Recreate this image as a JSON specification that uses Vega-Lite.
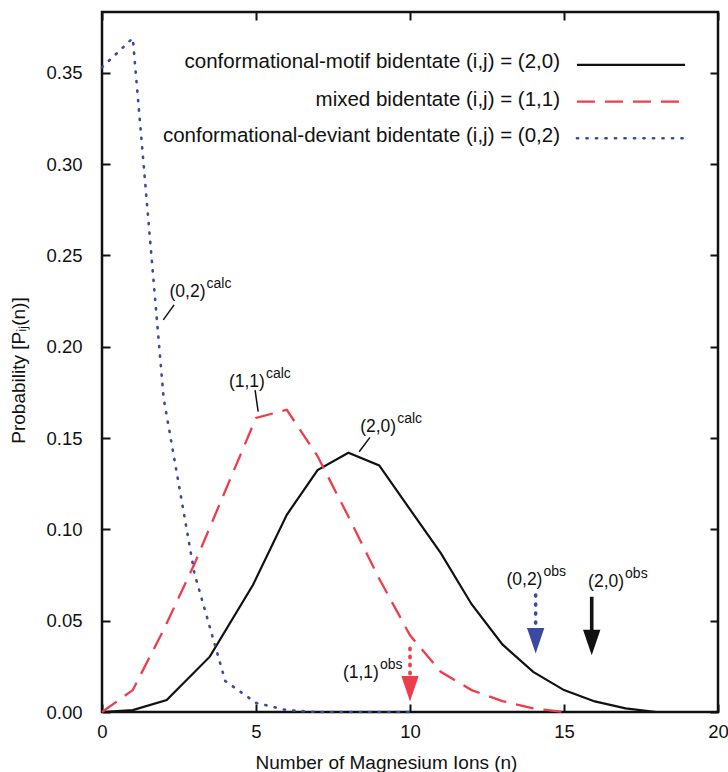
{
  "$schema": "https://vega.github.io/schema/vega-lite/v6.json",
  "width": 616,
  "height": 700,
  "autosize": {"type": "none"},
  "padding": {"left": 102, "top": 12, "right": 10, "bottom": 60},
  "background": "white",
  "config": {
    "font": "Liberation Sans",
    "view": {"stroke": "#111111", "strokeWidth": 2.5},
    "axis": {
      "domain": false, "grid": false, "tickColor": "#111111", "tickWidth": 2, "tickSize": -8,
      "labelFont": "Liberation Sans", "labelFontSize": 18.5, "labelColor": "#111111", "labelFlush": false, "labelOverlap": false,
      "titleFont": "Liberation Sans", "titleFontSize": 19, "titleFontWeight": "normal", "titleColor": "#111111"
    }
  },
  "datasets": {
    "curves": [
      {"s": "a", "n": 0, "p": 0}, {"s": "a", "n": 1, "p": 0.001}, {"s": "a", "n": 2.1, "p": 0.0066}, {"s": "a", "n": 3.5, "p": 0.0303},
      {"s": "a", "n": 4.9, "p": 0.0695}, {"s": "a", "n": 6, "p": 0.108}, {"s": "a", "n": 7, "p": 0.1325}, {"s": "a", "n": 8, "p": 0.142},
      {"s": "a", "n": 9, "p": 0.135}, {"s": "a", "n": 10, "p": 0.111}, {"s": "a", "n": 11, "p": 0.087}, {"s": "a", "n": 12, "p": 0.059},
      {"s": "a", "n": 13, "p": 0.037}, {"s": "a", "n": 14, "p": 0.022}, {"s": "a", "n": 15, "p": 0.012}, {"s": "a", "n": 16, "p": 0.0058},
      {"s": "a", "n": 17, "p": 0.002}, {"s": "a", "n": 18, "p": 0},
      {"s": "b", "n": 0, "p": 0}, {"s": "b", "n": 1, "p": 0.012}, {"s": "b", "n": 2, "p": 0.045}, {"s": "b", "n": 3, "p": 0.081},
      {"s": "b", "n": 4, "p": 0.121}, {"s": "b", "n": 5, "p": 0.161}, {"s": "b", "n": 6, "p": 0.1655}, {"s": "b", "n": 7, "p": 0.14},
      {"s": "b", "n": 8, "p": 0.107}, {"s": "b", "n": 9, "p": 0.073}, {"s": "b", "n": 10, "p": 0.042}, {"s": "b", "n": 11, "p": 0.022},
      {"s": "b", "n": 12, "p": 0.012}, {"s": "b", "n": 13, "p": 0.006}, {"s": "b", "n": 14, "p": 0.002}, {"s": "b", "n": 15, "p": 0},
      {"s": "c", "n": 0, "p": 0.353}, {"s": "c", "n": 1, "p": 0.369}, {"s": "c", "n": 2, "p": 0.172}, {"s": "c", "n": 3, "p": 0.076},
      {"s": "c", "n": 4, "p": 0.017}, {"s": "c", "n": 5, "p": 0.005}, {"s": "c", "n": 6, "p": 0.001}, {"s": "c", "n": 7, "p": 0},
      {"s": "c", "n": 8, "p": 0}, {"s": "c", "n": 9, "p": 0}, {"s": "c", "n": 10, "p": 0}
    ],
    "arrows": [
      {"k": "b", "n": 10.0, "t": 0.0349, "b": 0.0205, "h": 0.0127},
      {"k": "c", "n": 14.08, "t": 0.064, "b": 0.046, "h": 0.039},
      {"k": "a", "n": 15.9, "t": 0.0631, "b": 0.042, "h": 0.038}
    ],
    "labels": [
      {"lab": "(0,2)", "sup": "calc", "n": 3.36, "p": 0.227},
      {"lab": "(1,1)", "sup": "calc", "n": 5.29, "p": 0.178},
      {"lab": "(2,0)", "sup": "calc", "n": 9.55, "p": 0.1535},
      {"lab": "(0,2)", "sup": "obs", "n": 14.3, "p": 0.0694},
      {"lab": "(2,0)", "sup": "obs", "n": 16.95, "p": 0.0687},
      {"lab": "(1,1)", "sup": "obs", "n": 8.99, "p": 0.0185}
    ],
    "leaders": [
      {"n1": 1.99, "p1": 0.2147, "n2": 2.34, "p2": 0.2229},
      {"n1": 4.97, "p1": 0.1763, "n2": 5.07, "p2": 0.1645},
      {"n1": 8.70, "p1": 0.1504, "n2": 8.35, "p2": 0.1425}
    ],
    "legend": [
      {"s": "a", "t": "conformational-motif bidentate (i,j) = (2,0)", "xt": 14.87, "yt": 0.3561, "x1": 15.42, "x2": 18.93, "yl": 0.3543},
      {"s": "b", "t": "mixed bidentate (i,j) = (1,1)", "xt": 14.87, "yt": 0.3352, "x1": 15.42, "x2": 18.93, "yl": 0.3342},
      {"s": "c", "t": "conformational-deviant bidentate (i,j) = (0,2)", "xt": 14.87, "yt": 0.3154, "x1": 15.42, "x2": 18.93, "yl": 0.3142}
    ]
  },
  "resolve": {"axis": {"x": "independent", "y": "independent"}},
  "layer": [
    {
      "data": {"name": "curves"},
      "transform": [{"filter": "datum.s === 'a'"}],
      "mark": {"type": "line", "color": "#111111", "strokeWidth": 2.2},
      "encoding": {
        "x": {"field": "n", "type": "quantitative", "scale": {"domain": [0, 20], "nice": false},
              "axis": {"orient": "bottom", "values": [0, 5, 10, 15, 20], "labelPadding": 18, "title": "Number of Magnesium Ions (n)",
                       "titleX": 284, "titleY": 50, "titleAlign": "center", "titleBaseline": "middle"}},
        "y": {"field": "p", "type": "quantitative", "scale": {"domain": [0, 0.3833], "nice": false},
              "axis": {"orient": "left", "values": [0, 0.05, 0.1, 0.15, 0.2, 0.25, 0.3, 0.35], "format": ".2f", "labelPadding": 28,
                       "title": "Probability [Pᵢⱼ(n)]", "titleX": -84, "titleY": 358, "titleAngle": 270, "titleAlign": "center", "titleBaseline": "middle"}}
      }
    },
    {
      "data": {"name": "curves"},
      "transform": [{"filter": "datum.s === 'b'"}],
      "mark": {"type": "line", "color": "#ee3d4a", "strokeWidth": 2.3, "strokeDash": [18, 10]},
      "encoding": {
        "x": {"field": "n", "type": "quantitative", "scale": {"domain": [0, 20], "nice": false},
              "axis": {"orient": "top", "values": [0, 5, 10, 15, 20], "labels": false, "title": null}},
        "y": {"field": "p", "type": "quantitative", "scale": {"domain": [0, 0.3833], "nice": false},
              "axis": {"orient": "right", "values": [0, 0.05, 0.1, 0.15, 0.2, 0.25, 0.3, 0.35], "labels": false, "title": null}}
      }
    },
    {
      "data": {"name": "curves"},
      "transform": [{"filter": "datum.s === 'c'"}],
      "mark": {"type": "line", "color": "#3b4aa0", "strokeWidth": 2.6, "strokeDash": [1.2, 8.3], "strokeCap": "round"},
      "encoding": {
        "x": {"field": "n", "type": "quantitative", "scale": {"domain": [0, 20], "nice": false}, "axis": null},
        "y": {"field": "p", "type": "quantitative", "scale": {"domain": [0, 0.3833], "nice": false}, "axis": null}
      }
    },
    {
      "data": {"name": "arrows"},
      "transform": [{"filter": "datum.k === 'a'"}],
      "mark": {"type": "rule", "color": "#111111", "strokeWidth": 3.6},
      "encoding": {
        "x": {"field": "n", "type": "quantitative", "scale": {"domain": [0, 20], "nice": false}, "axis": null},
        "y": {"field": "t", "type": "quantitative", "scale": {"domain": [0, 0.3833], "nice": false}, "axis": null},
        "y2": {"field": "b"}
      }
    },
    {
      "data": {"name": "arrows"},
      "transform": [{"filter": "datum.k === 'b'"}],
      "mark": {"type": "rule", "color": "#ee3d4a", "strokeWidth": 3.6, "strokeDash": [1.5, 6.5], "strokeCap": "round"},
      "encoding": {
        "x": {"field": "n", "type": "quantitative", "scale": {"domain": [0, 20], "nice": false}, "axis": null},
        "y": {"field": "t", "type": "quantitative", "scale": {"domain": [0, 0.3833], "nice": false}, "axis": null},
        "y2": {"field": "b"}
      }
    },
    {
      "data": {"name": "arrows"},
      "transform": [{"filter": "datum.k === 'c'"}],
      "mark": {"type": "rule", "color": "#3b4aa0", "strokeWidth": 3.6, "strokeDash": [1, 8], "strokeCap": "round"},
      "encoding": {
        "x": {"field": "n", "type": "quantitative", "scale": {"domain": [0, 20], "nice": false}, "axis": null},
        "y": {"field": "t", "type": "quantitative", "scale": {"domain": [0, 0.3833], "nice": false}, "axis": null},
        "y2": {"field": "b"}
      }
    },
    {
      "data": {"name": "arrows"},
      "mark": {"type": "point", "filled": true, "opacity": 1, "size": 650, "shape": "M-0.68,-1L0.68,-1L0,1Z"},
      "encoding": {
        "x": {"field": "n", "type": "quantitative", "scale": {"domain": [0, 20], "nice": false}, "axis": null},
        "y": {"field": "h", "type": "quantitative", "scale": {"domain": [0, 0.3833], "nice": false}, "axis": null},
        "color": {"field": "k", "type": "nominal", "scale": {"domain": ["a", "b", "c"], "range": ["#111111", "#ee3d4a", "#3b4aa0"]}, "legend": null}
      }
    },
    {
      "data": {"name": "leaders"},
      "mark": {"type": "rule", "color": "#111111", "strokeWidth": 1.5},
      "encoding": {
        "x": {"field": "n1", "type": "quantitative", "scale": {"domain": [0, 20], "nice": false}, "axis": null},
        "y": {"field": "p1", "type": "quantitative", "scale": {"domain": [0, 0.3833], "nice": false}, "axis": null},
        "x2": {"field": "n2"},
        "y2": {"field": "p2"}
      }
    },
    {
      "data": {"name": "labels"},
      "mark": {"type": "text", "align": "right", "baseline": "alphabetic", "fontSize": 17.5, "color": "#111111"},
      "encoding": {
        "x": {"field": "n", "type": "quantitative", "scale": {"domain": [0, 20], "nice": false}, "axis": null},
        "y": {"field": "p", "type": "quantitative", "scale": {"domain": [0, 0.3833], "nice": false}, "axis": null},
        "text": {"field": "lab"}
      }
    },
    {
      "data": {"name": "labels"},
      "mark": {"type": "text", "align": "left", "baseline": "alphabetic", "fontSize": 14, "dx": 1, "dy": -9, "color": "#111111"},
      "encoding": {
        "x": {"field": "n", "type": "quantitative", "scale": {"domain": [0, 20], "nice": false}, "axis": null},
        "y": {"field": "p", "type": "quantitative", "scale": {"domain": [0, 0.3833], "nice": false}, "axis": null},
        "text": {"field": "sup"}
      }
    },
    {
      "data": {"name": "legend"},
      "mark": {"type": "text", "align": "right", "baseline": "middle", "fontSize": 20.5, "color": "#111111"},
      "encoding": {
        "x": {"field": "xt", "type": "quantitative", "scale": {"domain": [0, 20], "nice": false}, "axis": null},
        "y": {"field": "yt", "type": "quantitative", "scale": {"domain": [0, 0.3833], "nice": false}, "axis": null},
        "text": {"field": "t"}
      }
    },
    {
      "data": {"name": "legend"},
      "transform": [{"filter": "datum.s === 'a'"}],
      "mark": {"type": "rule", "color": "#111111", "strokeWidth": 2.2},
      "encoding": {
        "x": {"field": "x1", "type": "quantitative", "scale": {"domain": [0, 20], "nice": false}, "axis": null},
        "x2": {"field": "x2"},
        "y": {"field": "yl", "type": "quantitative", "scale": {"domain": [0, 0.3833], "nice": false}, "axis": null}
      }
    },
    {
      "data": {"name": "legend"},
      "transform": [{"filter": "datum.s === 'b'"}],
      "mark": {"type": "rule", "color": "#ee3d4a", "strokeWidth": 2.3, "strokeDash": [18, 10]},
      "encoding": {
        "x": {"field": "x1", "type": "quantitative", "scale": {"domain": [0, 20], "nice": false}, "axis": null},
        "x2": {"field": "x2"},
        "y": {"field": "yl", "type": "quantitative", "scale": {"domain": [0, 0.3833], "nice": false}, "axis": null}
      }
    },
    {
      "data": {"name": "legend"},
      "transform": [{"filter": "datum.s === 'c'"}],
      "mark": {"type": "rule", "color": "#3b4aa0", "strokeWidth": 2.6, "strokeDash": [1.2, 8.3], "strokeCap": "round"},
      "encoding": {
        "x": {"field": "x1", "type": "quantitative", "scale": {"domain": [0, 20], "nice": false}, "axis": null},
        "x2": {"field": "x2"},
        "y": {"field": "yl", "type": "quantitative", "scale": {"domain": [0, 0.3833], "nice": false}, "axis": null}
      }
    }
  ]
}
